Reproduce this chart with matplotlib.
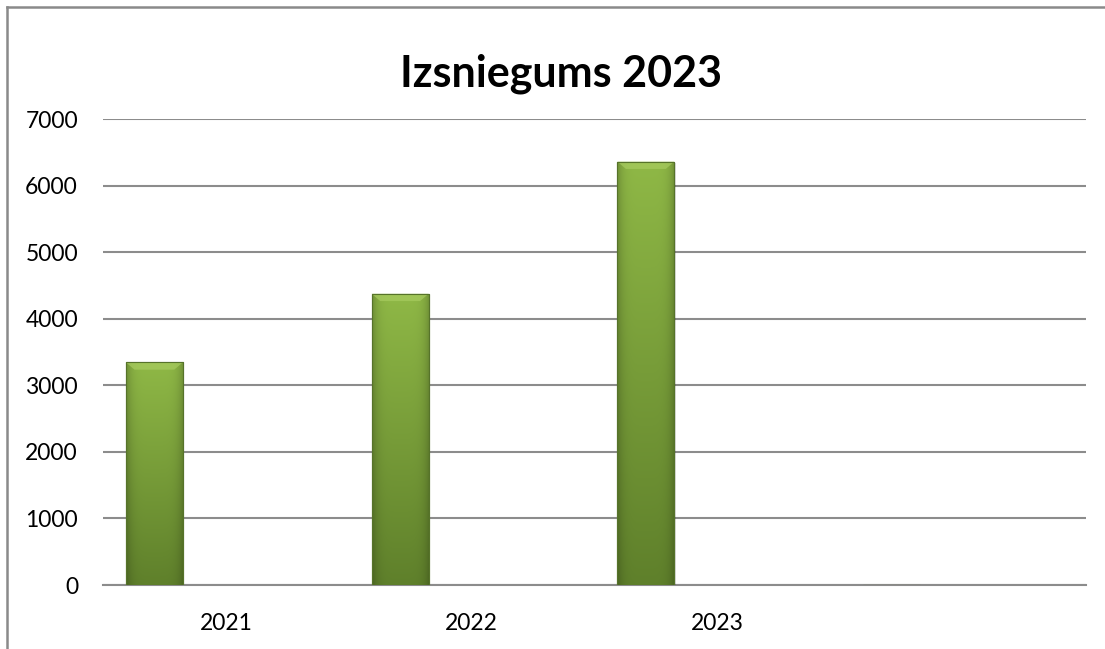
import matplotlib
matplotlib.use("Agg")
import matplotlib.pyplot as plt
import numpy as np
from matplotlib.lines import Line2D

title = "Izsniegums 2023"
categories = ["2021", "2022", "2023", ""]
values = [3345, 4375, 6360, None]
y_ticks = [0, 1000, 2000, 3000, 4000, 5000, 6000, 7000]

plt.rcParams['font.family'] = ['Lato', 'DejaVu Sans']

fig = plt.figure(figsize=(11.05, 6.49), dpi=100)
ax = fig.add_axes([103/1105, 1-585/649, (1086-103)/1105, (585-119)/649])

x = np.arange(len(categories))
bar_w = 0.232
offset = -0.291
vals = [v if v is not None else 0 for v in values]
bars = ax.bar(x + offset, vals, width=bar_w, color="#7a9d35",
              edgecolor="#56732a", linewidth=0.8, zorder=3)

# gradient fill for each bar
ny, nx = 200, 60
yy = np.linspace(0, 1, ny)[:, None]
xx = np.linspace(0, 1, nx)[None, :]
top = np.array([0x8f, 0xb8, 0x46]) / 255
bot = np.array([0x5f, 0x80, 0x2b]) / 255
grad = bot[None, None, :] * (1 - yy[..., None]) + top[None, None, :] * yy[..., None]
edge = 1 - 0.22 * (np.abs(xx - 0.5) * 2) ** 5
grad = grad * edge[..., None]
grad = np.clip(grad, 0, 1)

for b, v in zip(bars, values):
    if v is None:
        continue
    x0, w, h = b.get_x(), b.get_width(), b.get_height()
    im = ax.imshow(grad, extent=[x0, x0 + w, 0, h], origin="lower",
                   aspect="auto", zorder=3.5, interpolation="bilinear")
    im.set_clip_path(b)
    # bevel highlight at top
    bev_h = 110
    ax.fill([x0, x0 + w, x0 + w - 0.035, x0 + 0.035],
            [h, h, h - bev_h, h - bev_h], color="#a8cc60", alpha=0.7,
            zorder=3.6, linewidth=0)
    # shadow
    ax.bar(x0 + w / 2 + 0.006, h, width=w, bottom=-20, color="#000000",
           alpha=0.12, zorder=2.9, linewidth=0)
    ax.bar(x0 + w / 2, h, width=w, fill=False, edgecolor="#56732a",
           linewidth=0.8, zorder=3.8)

ax.set_xlim(-0.5, len(categories) - 0.5)
ax.set_ylim(0, 7000)
ax.set_yticks(y_ticks)
ax.set_yticklabels([str(t) for t in y_ticks])
ax.set_xticks(x)
ax.set_xticklabels(categories)
ax.tick_params(axis="both", length=0, labelsize=16.5, colors="#000000")
ax.tick_params(axis="y", pad=18)
ax.tick_params(axis="x", pad=20)
ax.yaxis.grid(True, color="#8c8c8c", linewidth=1.5, zorder=1)
ax.set_axisbelow(True)
for s in ["left", "right", "top"]:
    ax.spines[s].set_visible(False)
ax.spines["bottom"].set_color("#8c8c8c")
ax.spines["bottom"].set_linewidth(1.5)
ax.spines["bottom"].set_zorder(2)

fig.text(561/1105, 1-74/649, title, ha="center", va="center",
         fontsize=31, fontweight="bold")

# outer chart frame (partial)
fig.add_artist(Line2D([7/1105, 7/1105], [0, 1-7/649], transform=fig.transFigure,
                      color="#8a8a8a", linewidth=1.8))
fig.add_artist(Line2D([7/1105, 1], [1-7/649, 1-7/649], transform=fig.transFigure,
                      color="#8a8a8a", linewidth=1.8))

fig.savefig("out.png", dpi=100)
